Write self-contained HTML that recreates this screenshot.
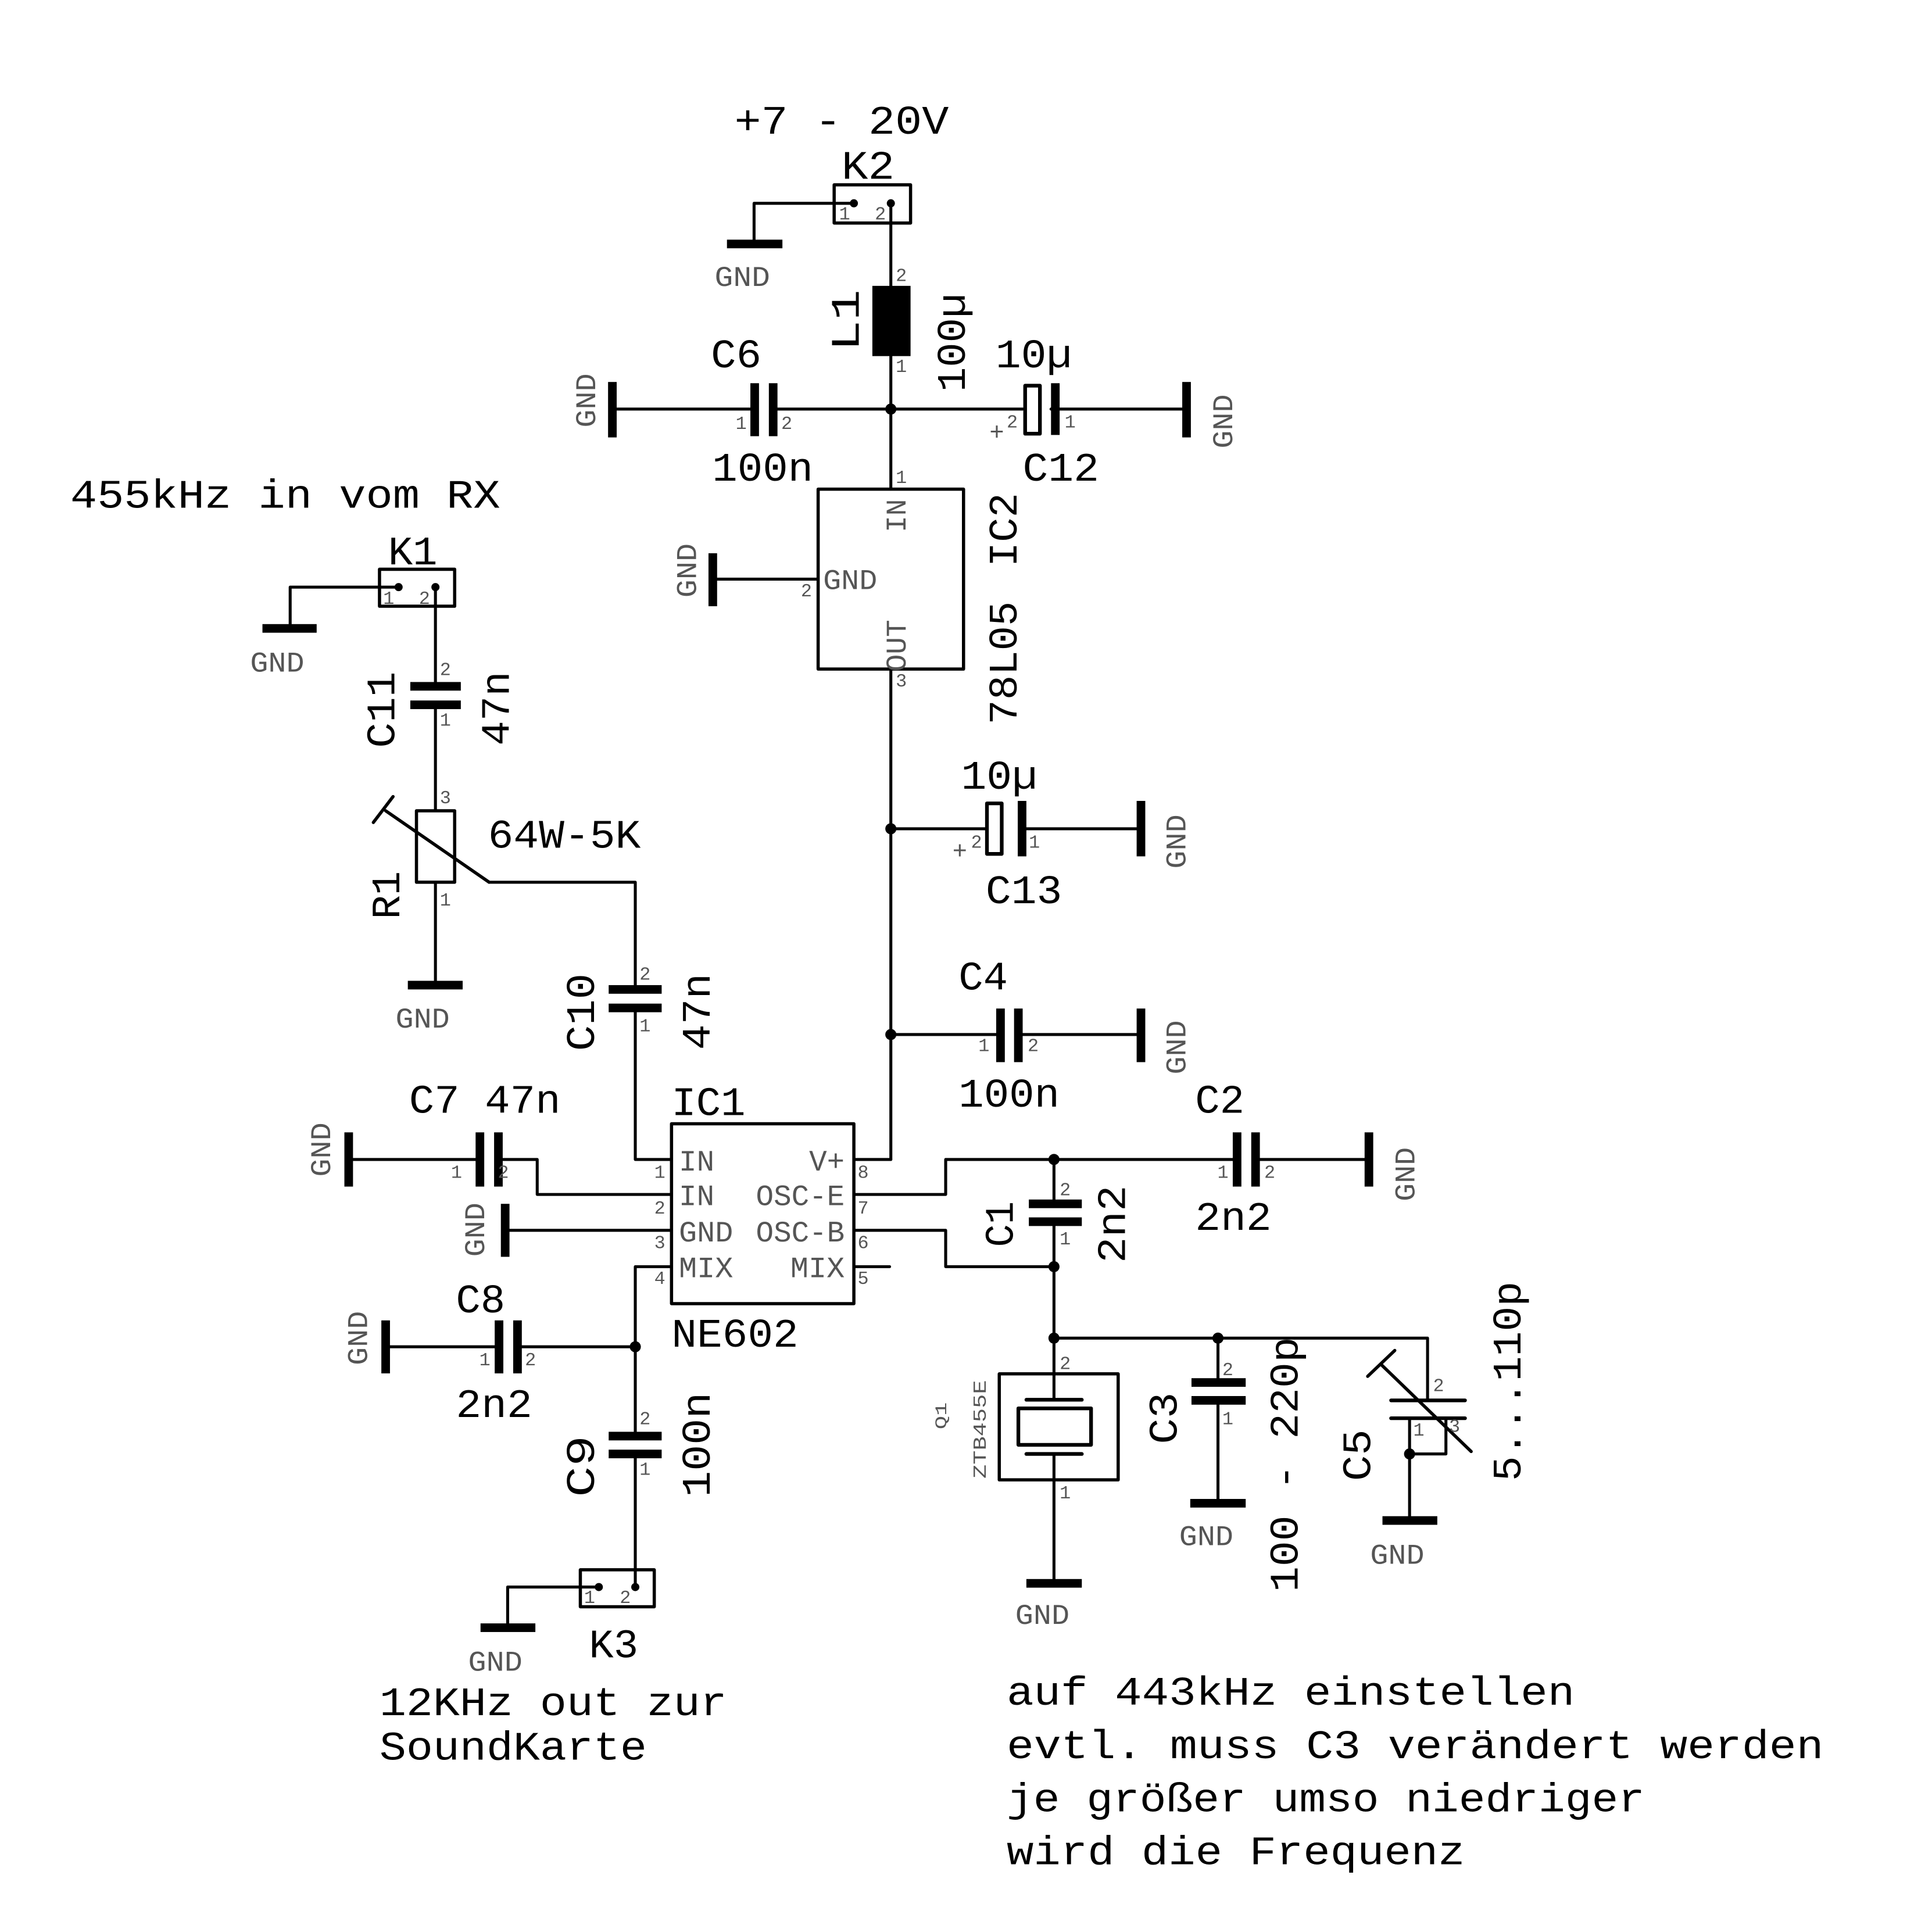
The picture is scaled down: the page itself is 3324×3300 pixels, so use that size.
<!DOCTYPE html>
<html><head><meta charset="utf-8"><style>
html,body{margin:0;padding:0;background:#fff}
svg{display:block}
text{font-family:"Liberation Mono",monospace}
.b{font-size:33px;fill:#000}
.p{font-size:15px;fill:#555}
.g{font-size:23px;fill:#555}
.n{font-size:24px;fill:#555}
</style></head><body>
<svg width="3324" height="3300" viewBox="0 0 1568 1556.6" preserveAspectRatio="none" xmlns="http://www.w3.org/2000/svg">
<g stroke="#000" stroke-width="2.4" fill="none" stroke-linecap="round" stroke-linejoin="round">
<!-- K2 -->
<rect x="677" y="150" width="62" height="31" stroke-width="2.6"/>
<polyline points="693,165 612,165 612,198"/>
<line x1="723" y1="165" x2="723" y2="232"/>
<line x1="723" y1="289" x2="723" y2="397"/>
<!-- C6 line -->
<line x1="497" y1="332" x2="612" y2="332"/>
<line x1="627" y1="332" x2="723" y2="332"/>
<line x1="723" y1="332" x2="830" y2="332"/>
<line x1="853" y1="332" x2="963" y2="332"/>
<!-- IC2 -->
<rect x="664" y="397" width="118" height="146" stroke-width="2.6"/>
<line x1="579" y1="470" x2="664" y2="470"/>
<line x1="723" y1="543" x2="723" y2="941"/>
<line x1="723" y1="941" x2="693" y2="941"/>
<!-- C13 -->
<line x1="723" y1="672.6" x2="799.5" y2="672.6"/>
<line x1="829.5" y1="672.6" x2="926" y2="672.6"/>
<rect x="801" y="652" width="12" height="41" stroke-width="3"/>
<!-- C4 -->
<line x1="723" y1="839.6" x2="812" y2="839.6"/>
<line x1="826" y1="839.6" x2="926" y2="839.6"/>
<!-- C12 rect -->
<rect x="832" y="313" width="12" height="39" stroke-width="3"/>
<!-- K1 -->
<rect x="308" y="462" width="61" height="30" stroke-width="2.6"/>
<polyline points="323.5,476.5 235.5,476.5 235.5,510"/>
<line x1="353.4" y1="476.5" x2="353.4" y2="557"/>
<line x1="353.4" y1="572" x2="353.4" y2="658"/>
<rect x="338" y="658" width="31" height="58" stroke-width="2.6"/>
<line x1="353.4" y1="716" x2="353.4" y2="800"/>
<line x1="313" y1="658" x2="397" y2="716" stroke-width="2.6"/>
<line x1="303" y1="667.5" x2="319" y2="646.5" stroke-width="2.6"/>
<polyline points="397,716 515.6,716 515.6,803"/>
<polyline points="515.6,818 515.6,941 545,941"/>
<!-- IC1 -->
<rect x="545" y="912" width="148" height="146" stroke-width="2.6"/>
<!-- C7 -->
<polyline points="545,969.4 436,969.4 436,941 405,941"/>
<line x1="390" y1="941" x2="283" y2="941"/>
<line x1="410" y1="998.5" x2="545" y2="998.5"/>
<polyline points="545,1028 515.6,1028 515.6,1165"/>
<line x1="515.6" y1="1093" x2="420" y2="1093"/>
<line x1="405" y1="1093" x2="313" y2="1093"/>
<polyline points="515.6,1180 515.6,1288"/>
<rect x="471" y="1274" width="60" height="30" stroke-width="2.6"/>
<polyline points="486,1288 412,1288 412,1321"/>
<!-- right side -->
<line x1="693" y1="1028" x2="722" y2="1028"/>
<polyline points="693,969.4 767.5,969.4 767.5,941 1004,941"/>
<line x1="1019" y1="941" x2="1111" y2="941"/>
<line x1="855.4" y1="941" x2="855.4" y2="977"/>
<line x1="855.4" y1="991.5" x2="855.4" y2="1136"/>
<polyline points="693,998.5 767.5,998.5 767.5,1028 855.4,1028"/>
<polyline points="855.4,1086 1158.6,1086 1158.6,1136.5"/>
<!-- crystal -->
<rect x="811" y="1115" width="96.5" height="86" stroke-width="2.6"/>
<rect x="826.5" y="1143" width="59" height="29.6" stroke-width="3"/>
<line x1="833" y1="1136" x2="878" y2="1136" stroke-width="3"/>
<line x1="833" y1="1180" x2="878" y2="1180" stroke-width="3"/>
<line x1="855.4" y1="1180" x2="855.4" y2="1285"/>
<!-- C3 -->
<line x1="988.5" y1="1086" x2="988.5" y2="1122"/>
<line x1="988.5" y1="1136" x2="988.5" y2="1220"/>
<!-- C5 -->
<line x1="1129" y1="1136.5" x2="1189" y2="1136.5" stroke-width="3"/>
<line x1="1129" y1="1151" x2="1189" y2="1151" stroke-width="3"/>
<line x1="1144" y1="1151" x2="1144" y2="1234"/>
<polyline points="1173.5,1151 1173.5,1180 1144,1180"/>
<line x1="1121" y1="1107.5" x2="1194" y2="1178" stroke-width="2.6"/>
<line x1="1110" y1="1117" x2="1132" y2="1096" stroke-width="2.6"/>
</g>
<g fill="#000">
<!-- L1 -->
<rect x="708" y="232" width="31" height="57"/>
<!-- cap plates (vertical plates) -->
<rect x="609" y="311" width="7" height="43"/><rect x="624" y="311" width="7" height="43"/>
<rect x="853" y="311" width="7" height="42"/>
<rect x="826" y="650" width="7" height="45"/>
<rect x="808.5" y="818.5" width="7" height="43.5"/><rect x="823" y="818.5" width="7" height="43.5"/>
<rect x="386" y="919" width="7" height="44"/><rect x="401" y="919" width="7" height="44"/>
<rect x="401.5" y="1071.6" width="7" height="43"/><rect x="416.5" y="1071.6" width="7" height="43"/>
<rect x="1000.5" y="919" width="7" height="44"/><rect x="1015.5" y="919" width="7" height="44"/>
<!-- horizontal plates -->
<rect x="333" y="553.5" width="41" height="7"/><rect x="333" y="568.5" width="41" height="7"/>
<rect x="494" y="799.5" width="43" height="7"/><rect x="494" y="814.5" width="43" height="7"/>
<rect x="494" y="1162" width="43" height="7"/><rect x="494" y="1176.5" width="43" height="7"/>
<rect x="835" y="973.5" width="43" height="7"/><rect x="835" y="988" width="43" height="7"/>
<rect x="967" y="1118.5" width="44" height="7"/><rect x="967" y="1133" width="44" height="7"/>
<!-- GND bars -->
<rect x="590" y="194.5" width="45" height="7"/>
<rect x="493.5" y="310" width="7" height="45"/>
<rect x="959.5" y="310" width="7" height="45"/>
<rect x="575" y="449" width="7" height="43"/>
<rect x="922.5" y="650" width="7" height="45"/>
<rect x="922.5" y="818.5" width="7" height="43.5"/>
<rect x="213" y="506.5" width="44" height="7"/>
<rect x="331" y="796" width="44.5" height="7"/>
<rect x="279.5" y="919" width="7" height="44"/>
<rect x="406.5" y="977" width="7" height="43"/>
<rect x="309.5" y="1071.6" width="7" height="43"/>
<rect x="390" y="1317.5" width="44.5" height="7"/>
<rect x="1107.5" y="919" width="7" height="44"/>
<rect x="833" y="1281.5" width="45" height="7"/>
<rect x="966" y="1216.5" width="45" height="7"/>
<rect x="1122" y="1230.5" width="44.5" height="7"/>
<!-- junctions -->
<circle cx="723" cy="332" r="4.5"/><circle cx="723" cy="672.6" r="4.5"/><circle cx="723" cy="839.6" r="4.5"/>
<circle cx="855.4" cy="941" r="4.5"/><circle cx="855.4" cy="1028" r="4.5"/><circle cx="855.4" cy="1086" r="4.5"/>
<circle cx="988.5" cy="1086" r="4.5"/><circle cx="515.6" cy="1093" r="4.5"/><circle cx="1144" cy="1180" r="4.5"/>
<circle cx="693" cy="165" r="3.3"/><circle cx="723" cy="165" r="3.3"/>
<circle cx="323.5" cy="476.5" r="3.3"/><circle cx="353.4" cy="476.5" r="3.3"/>
<circle cx="486" cy="1288" r="3.3"/><circle cx="515.6" cy="1288" r="3.3"/>
</g>
<!-- big labels -->
<g class="b">
<text x="596" y="108.5" textLength="174" lengthAdjust="spacingAndGlyphs">+7 - 20V</text>
<text x="683" y="145" textLength="43" lengthAdjust="spacingAndGlyphs">K2</text>
<text x="577" y="298" textLength="41" lengthAdjust="spacingAndGlyphs">C6</text>
<text x="578" y="390" textLength="82" lengthAdjust="spacingAndGlyphs">100n</text>
<text x="808" y="298" textLength="62" lengthAdjust="spacingAndGlyphs">10µ</text>
<text x="830" y="390" textLength="62" lengthAdjust="spacingAndGlyphs">C12</text>
<text x="57" y="412" textLength="349" lengthAdjust="spacingAndGlyphs">455kHz in vom RX</text>
<text x="315" y="458" textLength="40" lengthAdjust="spacingAndGlyphs">K1</text>
<text x="396" y="688" textLength="124" lengthAdjust="spacingAndGlyphs">64W-5K</text>
<text x="780" y="640" textLength="62" lengthAdjust="spacingAndGlyphs">10µ</text>
<text x="800" y="733" textLength="62" lengthAdjust="spacingAndGlyphs">C13</text>
<text x="778" y="803" textLength="40" lengthAdjust="spacingAndGlyphs">C4</text>
<text x="778" y="898" textLength="82" lengthAdjust="spacingAndGlyphs">100n</text>
<text x="545" y="905" textLength="60" lengthAdjust="spacingAndGlyphs">IC1</text>
<text x="545" y="1093" textLength="103" lengthAdjust="spacingAndGlyphs">NE602</text>
<text x="332" y="903" textLength="123" lengthAdjust="spacingAndGlyphs">C7 47n</text>
<text x="970" y="903" textLength="40" lengthAdjust="spacingAndGlyphs">C2</text>
<text x="970" y="998" textLength="62" lengthAdjust="spacingAndGlyphs">2n2</text>
<text x="370" y="1065" textLength="40" lengthAdjust="spacingAndGlyphs">C8</text>
<text x="370" y="1150" textLength="62" lengthAdjust="spacingAndGlyphs">2n2</text>
<text x="478" y="1345" textLength="40" lengthAdjust="spacingAndGlyphs">K3</text>
<text x="308" y="1392" textLength="282" lengthAdjust="spacingAndGlyphs">12KHz out zur</text>
<text x="308" y="1428" textLength="217" lengthAdjust="spacingAndGlyphs">SoundKarte</text>
<text x="817" y="1383.5" textLength="461" lengthAdjust="spacingAndGlyphs">auf 443kHz einstellen</text>
<text x="817" y="1427" textLength="663" lengthAdjust="spacingAndGlyphs">evtl.  muss C3 verändert werden</text>
<text x="817" y="1470" textLength="518" lengthAdjust="spacingAndGlyphs">je größer umso niedriger</text>
<text x="817" y="1513" textLength="372" lengthAdjust="spacingAndGlyphs">wird die Frequenz</text>
<!-- rotated -->
<text transform="translate(697,285) rotate(-90)" textLength="50" lengthAdjust="spacingAndGlyphs">L1</text>
<text transform="translate(783,318) rotate(-90)" textLength="80" lengthAdjust="spacingAndGlyphs">100µ</text>
<text transform="translate(825,460) rotate(-90)" textLength="60" lengthAdjust="spacingAndGlyphs">IC2</text>
<text transform="translate(825,588) rotate(-90)" textLength="100" lengthAdjust="spacingAndGlyphs">78L05</text>
<text transform="translate(320,607) rotate(-90)" textLength="62" lengthAdjust="spacingAndGlyphs">C11</text>
<text transform="translate(413,605) rotate(-90)" textLength="60" lengthAdjust="spacingAndGlyphs">47n</text>
<text transform="translate(324,746) rotate(-90)" textLength="39" lengthAdjust="spacingAndGlyphs">R1</text>
<text transform="translate(482,853) rotate(-90)" textLength="63" lengthAdjust="spacingAndGlyphs">C10</text>
<text transform="translate(576,852) rotate(-90)" textLength="62" lengthAdjust="spacingAndGlyphs">47n</text>
<text transform="translate(482,1215) rotate(-90)" textLength="50" lengthAdjust="spacingAndGlyphs">C9</text>
<text transform="translate(576,1215) rotate(-90)" textLength="85" lengthAdjust="spacingAndGlyphs">100n</text>
<text transform="translate(822,1012) rotate(-90)" textLength="37" lengthAdjust="spacingAndGlyphs">C1</text>
<text transform="translate(913,1025) rotate(-90)" textLength="63" lengthAdjust="spacingAndGlyphs">2n2</text>
<text transform="translate(955,1172) rotate(-90)" textLength="42" lengthAdjust="spacingAndGlyphs">C3</text>
<text transform="translate(1053,1292) rotate(-90)" textLength="207" lengthAdjust="spacingAndGlyphs">100 - 220p</text>
<text transform="translate(1112,1202) rotate(-90)" textLength="42" lengthAdjust="spacingAndGlyphs">C5</text>
<text transform="translate(1234,1202) rotate(-90)" textLength="162" lengthAdjust="spacingAndGlyphs">5...110p</text>
</g>
<!-- GND labels -->
<g class="g">
<text x="580" y="232" textLength="45" lengthAdjust="spacingAndGlyphs">GND</text>
<text x="203" y="545" textLength="44" lengthAdjust="spacingAndGlyphs">GND</text>
<text x="321" y="834" textLength="44" lengthAdjust="spacingAndGlyphs">GND</text>
<text x="380" y="1356" textLength="44" lengthAdjust="spacingAndGlyphs">GND</text>
<text x="824" y="1318" textLength="44" lengthAdjust="spacingAndGlyphs">GND</text>
<text x="957" y="1254" textLength="44" lengthAdjust="spacingAndGlyphs">GND</text>
<text x="1112" y="1269" textLength="44" lengthAdjust="spacingAndGlyphs">GND</text>
<text transform="translate(483,347) rotate(-90)" textLength="44" lengthAdjust="spacingAndGlyphs">GND</text>
<text transform="translate(1000,364) rotate(-90)" textLength="44" lengthAdjust="spacingAndGlyphs">GND</text>
<text transform="translate(565,485) rotate(-90)" textLength="44" lengthAdjust="spacingAndGlyphs">GND</text>
<text transform="translate(962,705) rotate(-90)" textLength="44" lengthAdjust="spacingAndGlyphs">GND</text>
<text transform="translate(962,872) rotate(-90)" textLength="44" lengthAdjust="spacingAndGlyphs">GND</text>
<text transform="translate(268,955) rotate(-90)" textLength="44" lengthAdjust="spacingAndGlyphs">GND</text>
<text transform="translate(393,1020) rotate(-90)" textLength="44" lengthAdjust="spacingAndGlyphs">GND</text>
<text transform="translate(298,1108) rotate(-90)" textLength="44" lengthAdjust="spacingAndGlyphs">GND</text>
<text transform="translate(1148,975) rotate(-90)" textLength="44" lengthAdjust="spacingAndGlyphs">GND</text>
<text transform="translate(735,432) rotate(-90)" textLength="27" lengthAdjust="spacingAndGlyphs">IN</text>
<text transform="translate(735,545) rotate(-90)" textLength="42" lengthAdjust="spacingAndGlyphs">OUT</text>
<text x="668" y="478" textLength="44" lengthAdjust="spacingAndGlyphs">GND</text>
<text transform="translate(768,1160) rotate(-90)" style="font-size:13px" textLength="22" lengthAdjust="spacingAndGlyphs">Q1</text>
<text transform="translate(800,1200) rotate(-90)" style="font-size:15px" textLength="80" lengthAdjust="spacingAndGlyphs">ZTB455E</text>
</g>
<!-- IC1 pin names -->
<g class="n">
<text x="551" y="950">IN</text>
<text x="551" y="978">IN</text>
<text x="551" y="1007.5" textLength="44" lengthAdjust="spacingAndGlyphs">GND</text>
<text x="551" y="1036.5" textLength="44" lengthAdjust="spacingAndGlyphs">MIX</text>
<text x="685.5" y="950" text-anchor="end">V+</text>
<text x="685.5" y="978" text-anchor="end" textLength="72" lengthAdjust="spacingAndGlyphs">OSC-E</text>
<text x="685.5" y="1007.5" text-anchor="end" textLength="72" lengthAdjust="spacingAndGlyphs">OSC-B</text>
<text x="685.5" y="1036.5" text-anchor="end" textLength="44" lengthAdjust="spacingAndGlyphs">MIX</text>
</g>
<!-- pin numbers -->
<g class="p">
<text x="681" y="178">1</text><text x="710" y="178">2</text>
<text x="311" y="490">1</text><text x="340" y="490">2</text>
<text x="474" y="1301">1</text><text x="503" y="1301">2</text>
<text x="727" y="228">2</text><text x="727" y="302">1</text>
<text x="597" y="348">1</text><text x="634" y="348">2</text>
<text x="803" y="357" style="font-size:20px">+</text><text x="817" y="347">2</text><text x="864" y="347">1</text>
<text x="727" y="392">1</text><text x="650" y="484">2</text><text x="727" y="557">3</text>
<text x="357" y="548">2</text><text x="357" y="589">1</text>
<text x="357" y="652">3</text><text x="357" y="735">1</text>
<text x="773" y="697" style="font-size:20px">+</text><text x="788" y="688">2</text><text x="835" y="688">1</text>
<text x="794" y="853">1</text><text x="834" y="853">2</text>
<text x="519" y="795">2</text><text x="519" y="837">1</text>
<text x="531" y="956">1</text><text x="531" y="985">2</text><text x="531" y="1013">3</text><text x="531" y="1042">4</text>
<text x="696" y="956">8</text><text x="696" y="985">7</text><text x="696" y="1013">6</text><text x="696" y="1042">5</text>
<text x="366" y="956">1</text><text x="404" y="956">2</text>
<text x="389" y="1108">1</text><text x="426" y="1108">2</text>
<text x="519" y="1156">2</text><text x="519" y="1197">1</text>
<text x="988" y="956">1</text><text x="1026" y="956">2</text>
<text x="860" y="970">2</text><text x="860" y="1010">1</text>
<text x="860" y="1111">2</text><text x="860" y="1216">1</text>
<text x="992" y="1116">2</text><text x="992" y="1156">1</text>
<text x="1163" y="1129">2</text><text x="1147" y="1165">1</text><text x="1176" y="1162">3</text>
</g>
</svg>
</body></html>
